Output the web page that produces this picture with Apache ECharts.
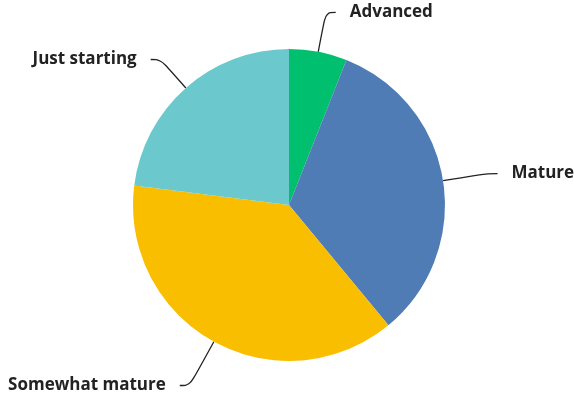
<!DOCTYPE html>
<html>
<head>
<meta charset="utf-8">
<script src="https://cdn.jsdelivr.net/npm/echarts@6/dist/echarts.min.js"></script>
<style>
  html, body { margin: 0; padding: 0; background: #fff; }
  #chart { width: 574px; height: 397px; }
</style>
</head>
<body>
<div id="chart"></div>
<script>
// Maturity stages, clockwise from 12 o'clock
const stages = ['Advanced', 'Mature', 'Somewhat mature', 'Just starting'];
const shares = [6, 33, 38, 23];
const stageColors = ['#00bf6f', '#507cb6', '#f9be00', '#6bc8cd'];
// leader-line length for each stage's label
const leaderLengths = [40, 45, 50, 38];

const chart = echarts.init(document.getElementById('chart'), null, { renderer: 'canvas' });

chart.setOption({
  animation: false,
  series: [{
    type: 'pie',
    center: [289, 205],
    radius: 156,
    startAngle: 90,
    clockwise: true,
    avoidLabelOverlap: false,
    data: stages.map((name, i) => ({
      name,
      value: shares[i],
      itemStyle: { color: stageColors[i] },
      labelLine: { length: leaderLengths[i] }
    })),
    label: {
      show: true,
      formatter: '{b}',
      color: '#222',
      fontFamily: 'Open Sans',
      fontWeight: 700,
      fontSize: 17,
      distanceToLabelLine: 14
    },
    labelLine: {
      show: true,
      length2: 10,
      smooth: 0.4,
      lineStyle: { color: '#222', width: 1.3 }
    },
    emphasis: { disabled: true }
  }]
});
</script>
</body>
</html>
